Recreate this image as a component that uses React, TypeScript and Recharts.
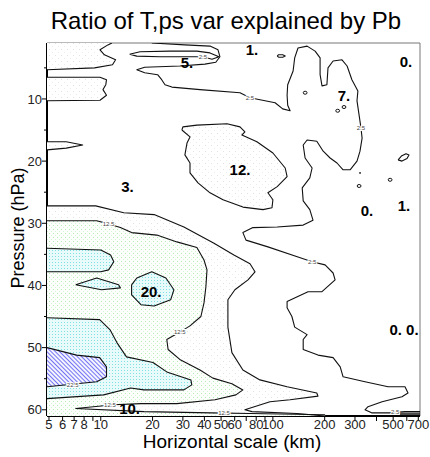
import React from 'react';
import { ComposedChart, XAxis, YAxis, Scatter, ReferenceLine } from 'recharts';

type Pt = [number, number];

// axis extents (km, hPa)
const X_MIN = 4.87;
const X_MAX = 716;
const Y_MIN = 1;
const Y_MAX = 61;

const X_TICKS = [5, 6, 7, 8, 9, 10, 20, 30, 40, 50, 60, 70, 80, 90, 100, 200, 300, 400, 500, 600, 700];
const X_LABELED = [5, 6, 7, 8, 10, 20, 30, 40, 50, 60, 80, 100, 200, 300, 500, 700];
const Y_TICKS = [5, 10, 15, 20, 25, 30, 35, 40, 45, 50, 55, 60];
const Y_LABELED = [10, 20, 30, 40, 50, 60];

// contour lines, [km, hPa]
const contourA: Pt[] = [[4.87, 5.3], [9.2, 5.0], [11.7, 4.5], [12.2, 3.7], [10.5, 2.9], [9.9, 2.1], [11.0, 1.3], [11.6, 1.0]];
const tongueB: Pt[] = [[4.87, 6.5], [9.9, 6.5], [10.8, 6.9], [10.7, 7.7], [10.3, 8.5], [10.8, 9.4], [9.9, 10.2], [4.87, 10.3]];
const tongueC: Pt[] = [[4.87, 16.9], [6.3, 16.9], [7.85, 17.4], [6.3, 17.9], [4.87, 18.2]];
const ellipse5: Pt[] = [[14.7, 2.8], [16.9, 2.4], [25.2, 2.3], [36.2, 2.3], [43.1, 2.6], [48.6, 3.2], [44.3, 3.6], [39.2, 3.2], [33, 3.2], [22.1, 3.2], [16.2, 3.1], [14.7, 2.8]];
const contourC: Pt[] = [
  [19.8, 1.0], [30.8, 1.3], [43.1, 1.5], [48.0, 2.1], [49.2, 3.2], [46.6, 4.1], [40.3, 4.4], [28.8, 4.7],
  [18.0, 4.9], [16.2, 5.3], [18.0, 5.8], [21.4, 6.1], [22.6, 6.9], [23.6, 7.7], [25.9, 8.1], [37.7, 8.5],
  [64.4, 9.0], [73.6, 9.8], [103, 10.6], [114, 11.6], [126, 11.9], [122, 11.0], [121, 9.4], [122, 7.7],
  [131, 5.5], [134, 3.4], [140, 1.8], [158, 1.5], [176, 2.3], [188, 3.4], [188, 6.1], [193, 7.9],
  [206, 7.7], [209, 5.0], [224, 3.9], [252, 3.7], [270, 4.7], [288, 6.9], [312, 8.7], [308, 10.3],
  [317, 12.6], [325, 14.7], [330, 16.3], [321, 18.4], [308, 20.0], [281, 21.4], [256, 21.4], [236, 20.3],
  [215, 19.5], [196, 18.4], [180, 16.8], [158, 16.6], [150, 17.4], [154, 19.5], [169, 21.1], [164, 22.7],
  [148, 24.3], [150, 26.4], [164, 27.8], [171, 29.5], [150, 30.3], [106, 30.6], [76.6, 30.7], [67.0, 31.5],
  [69.8, 32.7], [93.6, 33.8], [140, 35.4], [169, 36.2], [201, 36.7], [224, 38.0], [230, 39.1], [193, 41.0],
  [160, 41.0], [121, 42.6], [121, 43.6], [129, 45.0], [134, 46.7], [158, 47.9], [150, 48.7], [150, 50.3],
  [183, 51.2], [224, 51.6], [246, 53.1], [256, 54.7], [343, 55.5], [467, 56.3], [586, 56.3], [610, 57.3],
  [563, 57.9], [431, 58.7], [357, 59.5], [343, 60.0], [377, 60.5], [480, 60.5], [586, 60.3], [716, 60.3],
];
const region12: Pt[] = [
  [29.6, 15.0], [30.0, 14.5], [36.2, 14.2], [54.1, 14.0], [64.4, 14.5], [68.8, 15.3], [66.1, 15.8], [80.8, 16.9],
  [100, 18.7], [118, 21.1], [121, 22.5], [106, 24.1], [93.6, 25.1], [100, 26.2], [98.8, 27.5], [87.6, 27.8],
  [67.0, 27.4], [51.3, 26.2], [43.1, 25.1], [36.7, 23.5], [33.0, 21.9], [33.0, 20.3], [30.8, 19.0], [31.7, 17.1],
  [33.0, 16.1], [29.6, 15.0],
];
const line1: Pt[] = [
  [4.87, 27.2], [9.34, 27.2], [13.6, 28.3], [20.4, 28.6], [30.4, 30.6], [45.5, 33.2], [59.4, 35.1], [73.6, 36.5],
  [78.7, 37.8], [71.7, 39.1], [60.2, 40.7], [54.8, 42.3], [54.8, 46.7], [57.8, 50.8], [67.0, 53.6], [84.1, 55.2],
  [121, 56.3], [180, 57.3], [183, 57.8], [126, 58.4], [96.2, 58.7], [68.8, 60.0], [75.6, 60.3], [138, 60.6], [201, 61.0],
];
const line2: Pt[] = [
  [4.87, 29.6], [9.47, 29.6], [11.1, 30.1], [13.0, 30.7], [15.1, 31.5], [21.2, 31.9], [27.7, 33.0], [36.2, 33.9],
  [39.8, 35.9], [41.4, 37.5], [40.8, 40.2], [39.8, 42.8], [38.2, 45.0], [33.0, 46.5], [28.8, 47.5], [24.2, 48.7],
  [24.6, 50.3], [28.8, 51.9], [37.7, 53.6], [44.8, 54.9], [57.8, 55.8], [67.0, 56.8], [61.0, 57.6], [46.1, 58.4],
  [27.7, 59.0], [17.1, 59.0], [11.9, 59.2], [7.15, 59.8], [17.8, 60.3], [43.7, 60.5], [73.6, 60.6], [201, 60.8],
];
const cyanA: Pt[] = [[4.87, 34.0], [10.0, 34.3], [11.4, 35.1], [11.9, 36.2], [11.1, 37.5], [10.0, 37.8], [4.87, 37.8]];
const cyanB: Pt[] = [[7.15, 39.9], [9.47, 38.8], [12.7, 39.9], [13.0, 40.4], [10.1, 40.7], [7.15, 39.9]];
const region20: Pt[] = [[15.1, 39.9], [16.2, 38.8], [19.8, 37.8], [23.9, 38.8], [26.6, 40.7], [25.5, 42.3], [20.4, 43.3], [17.1, 43.1], [15.1, 41.5], [15.1, 39.9]];
const cyanD: Pt[] = [
  [4.87, 45.2], [9.86, 45.5], [11.3, 47.1], [12.4, 49.2], [14.1, 51.5], [20.1, 52.4], [24.2, 53.9], [33.4, 55.2],
  [33.8, 56.0], [30.4, 56.8], [17.8, 56.8], [14.9, 56.5], [10.4, 57.6], [4.87, 58.2],
];
const hatch: Pt[] = [[4.87, 50.0], [7.24, 51.2], [9.86, 51.6], [10.8, 53.1], [10.8, 54.7], [9.47, 55.5], [7.24, 55.8], [4.87, 56.3]];
const smallEll: Pt[] = [[106, 3.09], [108, 2.89], [114, 2.89], [118, 3.09], [114, 3.28], [108, 3.28], [106, 3.09]];
const rightEll: Pt[] = [[534, 19.8], [558, 19.2], [594, 18.8], [618, 19.0], [602, 19.6], [563, 20.0], [534, 19.8]];
const edge1: Pt[] = [[547, 60.55], [716, 60.55]];
const edge2: Pt[] = [[547, 60.8], [716, 60.8]];

const loops: Pt[] = [[154, 9.0], [238, 11.9], [259, 11.3], [317, 24.0], [480, 23.0]];
const specks: Pt[] = [[321, 21.9]];

const valueLabels = [
  { x: 75.6, y: 2.1, text: '1.' },
  { x: 31.7, y: 4.1, text: '5.' },
  { x: 594, y: 3.9, text: '0.' },
  { x: 259, y: 9.4, text: '7.' },
  { x: 64.4, y: 21.4, text: '12.' },
  { x: 14.3, y: 24.1, text: '3.' },
  { x: 352, y: 28.0, text: '0.' },
  { x: 578, y: 27.2, text: '1.' },
  { x: 19.6, y: 41.0, text: '20.' },
  { x: 578, y: 47.1, text: '0. 0.' },
  { x: 14.7, y: 59.8, text: '10.' },
];

const levelLabels = [
  { x: 39.2, y: 3.2, text: '2.5' },
  { x: 73.6, y: 9.8, text: '2.5' },
  { x: 325, y: 14.7, text: '2.5' },
  { x: 169, y: 36.2, text: '2.5' },
  { x: 513, y: 60.3, text: '2.5' },
  { x: 11.1, y: 30.1, text: '12.5' },
  { x: 28.8, y: 47.5, text: '12.5' },
  { x: 6.87, y: 56.0, text: '22.5' },
  { x: 11.3, y: 59.3, text: '12.5' },
  { x: 52, y: 60.5, text: '12.5' },
];

const faintFills: Pt[][] = [
  [...contourA, [X_MIN, Y_MIN]],
  tongueB,
  tongueC,
  region12,
  [...line1, [X_MIN, Y_MAX]],
];
const greenFills: Pt[][] = [[...line2, [201, Y_MAX], [X_MIN, Y_MAX]]];
const cyanFills: Pt[][] = [cyanA, cyanB, region20, cyanD];
const hatchFills: Pt[][] = [hatch];

const contours: Pt[][] = [
  contourA, tongueB, tongueC, ellipse5, contourC, region12, line1, line2,
  cyanA, cyanB, region20, cyanD, hatch, smallEll, rightEll, edge1, edge2,
];

const FONT = '"Liberation Sans", Arial, Helvetica, sans-serif';

const toXY = (pts: Pt[]) => pts.map(([x, y]) => ({ x, y }));

const pathOf = (pts: { x: number; y: number }[], close: boolean) =>
  pts.map((p, i) => `${i ? 'L' : 'M'}${p.x.toFixed(1)},${p.y.toFixed(1)}`).join('') + (close ? 'Z' : '');

const noDot = () => <g />;

const fillLine = (id: string) => (props: any) => {
  const pts = props.points || [];
  if (!pts.length) return <g />;
  return <path d={pathOf(pts, true)} fill={`url(#${id})`} stroke="none" />;
};

const strokeLine = (props: any) => {
  const pts = props.points || [];
  if (!pts.length) return <g />;
  return <path d={pathOf(pts, false)} fill="none" stroke="#111" strokeWidth={1.1} strokeLinejoin="round" />;
};

const loopShape = (props: any) => (
  <ellipse cx={props.cx} cy={props.cy} rx={1.9} ry={1.5} fill="none" stroke="#111" strokeWidth={1} />
);

const speckShape = (props: any) => <circle cx={props.cx} cy={props.cy} r={0.9} fill="#111" />;

const valueShape = (props: any) => (
  <text x={props.cx} y={props.cy + 5.5} textAnchor="middle" fontSize={15} fontWeight={700} fontFamily={FONT} fill="#000">
    {props.payload.text}
  </text>
);

const levelShape = (props: any) => (
  <text
    x={props.cx}
    y={props.cy + 2}
    textAnchor="middle"
    fontSize={6}
    fontFamily={FONT}
    fill="#444"
    stroke="#fff"
    strokeWidth={2}
    paintOrder="stroke"
  >
    {props.payload.text}
  </text>
);

const XTick = (props: any) => {
  const { x, y, payload } = props;
  const show = X_LABELED.includes(payload.value);
  return (
    <g>
      <line x1={x} x2={x} y1={y} y2={y + 5} stroke="#000" />
      {show && (
        <text x={x} y={y + 13} textAnchor="middle" fontSize={13} fontFamily={FONT} fill="#222">
          {payload.value}
        </text>
      )}
    </g>
  );
};

const YTick = (props: any) => {
  const { x, y, payload } = props;
  const major = Y_LABELED.includes(payload.value);
  return (
    <g>
      <line x1={x - (major ? 5 : 3)} x2={x} y1={y} y2={y} stroke="#000" />
      {major && (
        <text x={x - 5} y={y + 4.6} textAnchor="end" fontSize={13} fontFamily={FONT} fill="#222">
          {payload.value}
        </text>
      )}
    </g>
  );
};

export default function App() {
  return (
    <div style={{ position: 'absolute', left: 0, top: 0, width: 430, height: 457, background: '#fff' }}>
      <ComposedChart width={430} height={457} margin={{ top: 43, right: 10, bottom: 0, left: 0 }}>
        <defs>
          <pattern id="pFaint" width="6" height="6" patternUnits="userSpaceOnUse">
            <rect width="6" height="6" fill="#fff" />
            <rect x="1" y="1" width="1" height="1" fill="#e2e2e2" />
            <rect x="4" y="4" width="1" height="1" fill="#ececec" />
          </pattern>
          <pattern id="pGreen" width="4" height="4" patternUnits="userSpaceOnUse">
            <rect width="4" height="4" fill="#fcfffc" />
            <rect x="1" y="1" width="1" height="1" fill="#b4eab4" />
            <rect x="3" y="3" width="1" height="1" fill="#d6f4d6" />
          </pattern>
          <pattern id="pCyan" width="3" height="3" patternUnits="userSpaceOnUse">
            <rect width="3" height="3" fill="#e8fafa" />
            <rect x="1" y="1" width="1" height="1" fill="#7fe2e2" />
          </pattern>
          <pattern id="pHatch" width="3" height="3" patternUnits="userSpaceOnUse" patternTransform="rotate(-45)">
            <rect width="3" height="3" fill="#f4f4ff" />
            <line x1="0.5" y1="0" x2="0.5" y2="3" stroke="#7474f4" strokeWidth="1" />
          </pattern>
        </defs>
        <XAxis
          type="number"
          dataKey="x"
          scale="log"
          domain={[X_MIN, X_MAX]}
          allowDataOverflow
          ticks={X_TICKS}
          interval={0}
          height={41}
          tickSize={0}
          tickMargin={0}
          tickLine={false}
          tick={<XTick />}
          axisLine={{ stroke: '#000', strokeWidth: 2 }}
        />
        <YAxis
          type="number"
          dataKey="y"
          domain={[Y_MIN, Y_MAX]}
          reversed
          allowDataOverflow
          ticks={Y_TICKS}
          interval={0}
          width={47}
          tickSize={0}
          tickMargin={0}
          tickLine={false}
          tick={<YTick />}
          axisLine={{ stroke: '#000', strokeWidth: 2 }}
        />
        {faintFills.map((p, i) => (
          <Scatter key={`f${i}`} data={toXY(p)} line={fillLine('pFaint')} shape={noDot} isAnimationActive={false} />
        ))}
        {greenFills.map((p, i) => (
          <Scatter key={`g${i}`} data={toXY(p)} line={fillLine('pGreen')} shape={noDot} isAnimationActive={false} />
        ))}
        {cyanFills.map((p, i) => (
          <Scatter key={`c${i}`} data={toXY(p)} line={fillLine('pCyan')} shape={noDot} isAnimationActive={false} />
        ))}
        {hatchFills.map((p, i) => (
          <Scatter key={`h${i}`} data={toXY(p)} line={fillLine('pHatch')} shape={noDot} isAnimationActive={false} />
        ))}
        {contours.map((p, i) => (
          <Scatter key={`l${i}`} data={toXY(p)} line={strokeLine} shape={noDot} isAnimationActive={false} />
        ))}
        <Scatter data={toXY(loops)} shape={loopShape} isAnimationActive={false} />
        <Scatter data={toXY(specks)} shape={speckShape} isAnimationActive={false} />
        <Scatter data={levelLabels} shape={levelShape} isAnimationActive={false} />
        <Scatter data={valueLabels} shape={valueShape} isAnimationActive={false} />
        <ReferenceLine y={Y_MIN} stroke="#777" strokeWidth={1} />
        <ReferenceLine x={X_MAX} stroke="#777" strokeWidth={1} />
        <text x={226} y={29} textAnchor="middle" fontSize={24} fontFamily={FONT} fill="#000">
          Ratio of T,ps var explained by Pb
        </text>
        <text x={232} y={448} textAnchor="middle" fontSize={19} fontFamily={FONT} fill="#000">
          Horizontal scale (km)
        </text>
        <text x={24} y={228} textAnchor="middle" fontSize={18} fontFamily={FONT} fill="#000" transform="rotate(-90 24 228)">
          Pressure (hPa)
        </text>
      </ComposedChart>
    </div>
  );
}
